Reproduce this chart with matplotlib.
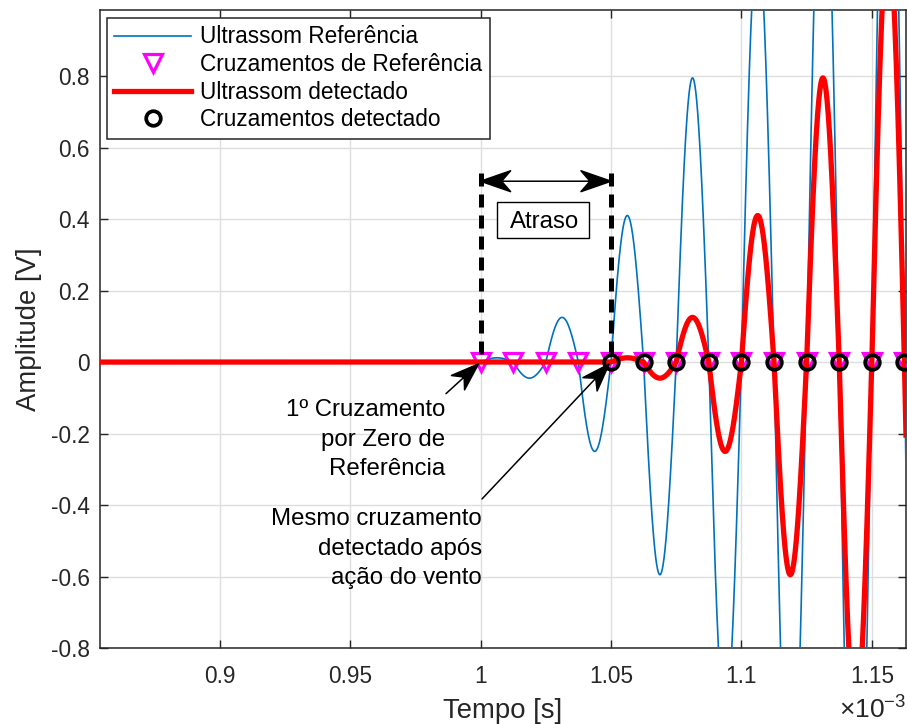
import numpy as np
import matplotlib
matplotlib.use("Agg")
import matplotlib.pyplot as plt
from matplotlib.patches import Rectangle, ArrowStyle
from matplotlib.path import Path

plt.rcParams["font.family"] = ["Liberation Sans", "DejaVu Sans"]
plt.rcParams["mathtext.fontset"] = "custom"
plt.rcParams["mathtext.rm"] = "Liberation Sans"
plt.rcParams["mathtext.it"] = "Liberation Sans:italic"
plt.rcParams["axes.unicode_minus"] = False

# Zero crossings [s]
ref_cross = np.array([1.0000, 1.0125, 1.0250, 1.0375, 1.0500, 1.0625, 1.0750,
                      1.0875, 1.1000, 1.1125, 1.1250, 1.1375, 1.1500, 1.1625]) * 1e-3
det_cross = np.array([1.0500, 1.0625, 1.0750, 1.0875, 1.1000, 1.1125, 1.1250,
                      1.1375, 1.1500, 1.1625]) * 1e-3

# Peak amplitude of the half cycle that starts at each crossing [V]
ref_peaks = [0.012, -0.045, 0.125, -0.25, 0.41, -0.595, 0.795,
             -1.0, 1.18, -1.36, 1.54, -1.72, 1.9, -2.05]
det_peaks = [0.012, -0.045, 0.125, -0.25, 0.41, -0.595, 0.795,
             -1.0, 1.18, -1.36]

half_period = 12.5e-6          # 40 kHz carrier
t_start, t_end = 0.8539e-3, 1.1631e-3

x_ticks = [0.9e-3, 0.95e-3, 1.0e-3, 1.05e-3, 1.1e-3, 1.15e-3]
x_tick_labels = ["0.9", "0.95", "1", "1.05", "1.1", "1.15"]
y_ticks = [-0.8, -0.6, -0.4, -0.2, 0, 0.2, 0.4, 0.6, 0.8]
y_tick_labels = ["-0.8", "-0.6", "-0.4", "-0.2", "0", "0.2", "0.4", "0.6", "0.8"]


def burst(t, starts, peaks):
    """Tone burst built from half-sine lobes between consecutive crossings."""
    y = np.zeros_like(t)
    for s, a in zip(starts, peaks):
        m = (t >= s) & (t < s + half_period)
        y[m] = a * np.sin(np.pi * (t[m] - s) / half_period)
    return y


class VBackArrow(ArrowStyle._Base):
    """Straight arrow with notched ("vback") filled heads."""

    def __init__(self, head_length=1.0, head_width=0.7, notch=0.3, both=False):
        self.head_length = head_length
        self.head_width = head_width
        self.notch = notch
        self.both = both
        super().__init__()

    def _head(self, tip, back, L, W):
        n = np.array([-back[1], back[0]])
        base = tip + back * L
        inner = tip + back * L * (1 - self.notch)
        return [tip, base + n * W / 2, inner, base - n * W / 2, tip], inner

    def transmute(self, path, mutation_size, linewidth):
        p0 = np.asarray(path.vertices[0], float)
        p1 = np.asarray(path.vertices[-1], float)
        d = p1 - p0
        d = d / np.hypot(*d)
        L = self.head_length * mutation_size
        W = self.head_width * mutation_size
        heads = []
        h_end, shaft_end = self._head(p1, -d, L, W)
        heads.append(h_end)
        shaft_start = p0
        if self.both:
            h_start, shaft_start = self._head(p0, d, L, W)
            heads.append(h_start)
        verts = [shaft_start, shaft_end]
        codes = [Path.MOVETO, Path.LINETO]
        for h in heads:
            verts += h
            codes += [Path.MOVETO, Path.LINETO, Path.LINETO, Path.LINETO, Path.CLOSEPOLY]
        return Path(verts, codes), True


t = np.linspace(t_start, t_end, 6000)
ref_signal = burst(t, ref_cross, ref_peaks)
det_signal = burst(t, det_cross, det_peaks)

BLUE = "#0072BD"
AX_COLOR = "#262626"

fig = plt.figure(figsize=(9.07, 7.24), dpi=100)
ax = fig.add_axes([99.5 / 907, 76 / 724, 806.5 / 907, 638 / 724])

ax.plot(t, ref_signal, color=BLUE, lw=1.2, label="Ultrassom Referência", zorder=3)
ax.plot(ref_cross, np.zeros_like(ref_cross), linestyle="none", marker="v",
        markersize=13, markeredgewidth=2.3, markeredgecolor="#FF00FF",
        markerfacecolor="none", label="Cruzamentos de Referência", zorder=4)
ax.plot(t, det_signal, color="#FF0000", lw=3.8, label="Ultrassom detectado", zorder=5)
ax.plot(det_cross, np.zeros_like(det_cross), linestyle="none", marker="o",
        markersize=10.5, markeredgewidth=2.7, markeredgecolor="black",
        markerfacecolor="none", label="Cruzamentos detectado", zorder=6)

ax.set_xlim(t_start, t_end)
ax.set_ylim(-0.8, 0.985)
ax.set_xticks(x_ticks)
ax.set_xticklabels(x_tick_labels)
ax.set_yticks(y_ticks)
ax.set_yticklabels(y_tick_labels)

ax.grid(True, color="#dedede", lw=1.0)
ax.set_axisbelow(True)
for sp in ax.spines.values():
    sp.set_color(AX_COLOR)
    sp.set_linewidth(1.1)
ax.tick_params(direction="in", length=5.8, width=1.0, color=AX_COLOR,
               labelcolor=AX_COLOR, labelsize=16.3, top=True, right=True)
ax.tick_params(axis="y", pad=7.2)
ax.tick_params(axis="x", pad=12.5)

ax.set_xlabel("Tempo [s]", fontsize=19.8, color=AX_COLOR, labelpad=7)
ax.set_ylabel("Amplitude [V]", fontsize=19.8, color=AX_COLOR, labelpad=6)
ax.text(1.0, -0.1105, r"$\times10^{-3}$", transform=ax.transAxes,
        ha="right", va="baseline", fontsize=19, color=AX_COLOR)

leg = ax.legend(loc="upper left", bbox_to_anchor=(0.0093, 0.9875),
                borderaxespad=0, fontsize=16.3, handlelength=3.4,
                handletextpad=0.4, labelspacing=0.2, borderpad=0.33,
                fancybox=False, framealpha=1, edgecolor=AX_COLOR)
leg.get_frame().set_linewidth(1.1)
leg.set_zorder(10)

# Delay between the first reference crossing and the same detected crossing
t_a, t_b = ref_cross[0], det_cross[0]
bar_top = 0.53
for xv in (t_a, t_b):
    ax.plot([xv, xv], [bar_top, 0], color="black", lw=3.6,
            dashes=(2.6, 1.6), solid_capstyle="butt", zorder=7)
ax.annotate("", xy=(t_b, 0.506), xytext=(t_a, 0.506),
            arrowprops=dict(arrowstyle=VBackArrow(1.08, 0.75, 0.3, both=True),
                            color="black", lw=1.1, shrinkA=0, shrinkB=0,
                            mutation_scale=20), zorder=8)
ax.add_patch(Rectangle((1.0063e-3, 0.3478), 0.03527e-3, 0.101, facecolor="white",
                       edgecolor="black", lw=1.0, zorder=8))
ax.text(1.0245e-3, 0.393, "Atraso", fontsize=17.3, ha="center", va="center",
        color="black", zorder=9)

# Arrows towards the marked crossings
ax.annotate("", xy=(t_a, 0), xytext=(0.98674e-3, -0.0884),
            arrowprops=dict(arrowstyle=VBackArrow(1.0, 0.7, 0.3),
                            color="black", lw=1.1, shrinkA=0, shrinkB=2,
                            mutation_scale=20), zorder=9)
ax.text(0.98650e-3, -0.103, "1º Cruzamento\npor Zero de\nReferência",
        fontsize=17.3, ha="right", va="top", multialignment="right",
        linespacing=1.45, color="black", zorder=9)

ax.annotate("", xy=(t_b, 0), xytext=(1.00055e-3, -0.383),
            arrowprops=dict(arrowstyle=VBackArrow(1.0, 0.7, 0.3),
                            color="black", lw=1.1, shrinkA=0, shrinkB=2,
                            mutation_scale=20), zorder=9)
ax.text(1.00055e-3, -0.408, "Mesmo cruzamento\ndetectado após\nação do vento",
        fontsize=17.3, ha="right", va="top", multialignment="right",
        linespacing=1.45, color="black", zorder=9)

fig.savefig("out.png", dpi=100)
